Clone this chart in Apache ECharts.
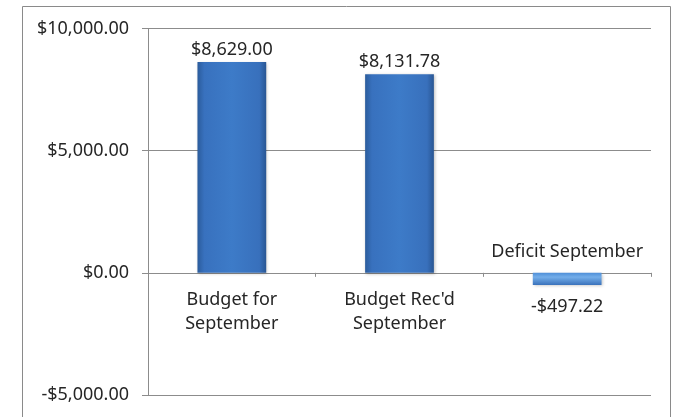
<!DOCTYPE html>
<html>
<head>
<meta charset="utf-8">
<script src="https://cdn.jsdelivr.net/npm/echarts@6/dist/echarts.min.js"></script>
<style>
html,body{margin:0;padding:0;background:#fff;}
#chart{width:680px;height:417px;}
</style>
</head>
<body>
<div id="chart"></div>
<script>
var categories = ['Budget for\nSeptember', 'Budget Rec\'d\nSeptember', 'Deficit September'];
var values = [8629.00, 8131.78, -497.22];
var yTicks = { min: -5000, max: 10000, interval: 5000 };

function money(v) {
  var neg = v < 0;
  var s = Math.abs(v).toFixed(2).replace(/\B(?=(\d{3})+(?!\d))/g, ',');
  return (neg ? '-$' : '$') + s;
}

var FONT = 'Noto Sans';
var TXT = '#262626';
var FS = 18;

var GRID_TOP = 28.5, GRID_BOTTOM = 22, H = 417;
var gridH = H - GRID_TOP - GRID_BOTTOM;
// move the category axis up to the zero value
var zeroOffset = -gridH * (0 - yTicks.min) / (yTicks.max - yTicks.min);

var posGrad = new echarts.graphic.LinearGradient(0, 0, 1, 0, [
  { offset: 0, color: '#2b5c9c' },
  { offset: 0.1, color: '#3871be' },
  { offset: 0.5, color: '#3d7bc8' },
  { offset: 0.9, color: '#3870bc' },
  { offset: 1, color: '#295693' }
]);
var negGrad = new echarts.graphic.LinearGradient(0, 0, 0, 1, [
  { offset: 0, color: '#4f8fd8' },
  { offset: 0.35, color: '#74aeea' },
  { offset: 1, color: '#3a72bb' }
]);

var barData = values.map(function (v) {
  if (v < 0) {
    return {
      value: v,
      itemStyle: { color: negGrad },
      label: { position: 'bottom', distance: 13 }
    };
  }
  return { value: v };
});

var catData = categories.map(function (c, i) {
  if (values[i] < 0) {
    return { value: c, textStyle: { verticalAlign: 'bottom' } };
  }
  return c;
});

var chart = echarts.init(document.getElementById('chart'), null, { renderer: 'canvas' });
chart.setOption({
  animation: false,
  backgroundColor: '#ffffff',
  graphic: [{
    type: 'rect',
    shape: { x: 22.5, y: 6.5, width: 648, height: 430 },
    style: { fill: 'none', stroke: '#8a8a8a', lineWidth: 1 },
    silent: true,
    z: -1
  }],
  grid: { left: 148, right: 29, top: GRID_TOP, bottom: GRID_BOTTOM, containLabel: false, outerBoundsMode: 'none' },
  xAxis: {
    type: 'category',
    data: catData,
    position: 'bottom',
    offset: zeroOffset,
    axisLine: { show: true, onZero: false, lineStyle: { color: '#8c8c8c', width: 1 } },
    axisTick: { show: true, length: 4, alignWithLabel: false, lineStyle: { color: '#8c8c8c' } },
    axisLabel: {
      interval: 0,
      margin: 15,
      color: TXT,
      fontFamily: FONT,
      fontSize: FS,
      lineHeight: 24,
      formatter: function (v) {
        return v.indexOf('Deficit') === 0 ? v + '\n ' : v;
      }
    },
    splitLine: { show: false }
  },
  yAxis: {
    type: 'value',
    min: yTicks.min,
    max: yTicks.max,
    interval: yTicks.interval,
    axisLine: { show: true, lineStyle: { color: '#8c8c8c', width: 1 } },
    axisTick: { show: true, length: 6, lineStyle: { color: '#8c8c8c' } },
    axisLabel: {
      margin: 19,
      color: TXT,
      fontFamily: FONT,
      fontSize: FS,
      formatter: function (v) { return money(v); }
    },
    splitLine: { show: true, lineStyle: { color: '#8c8c8c', width: 1 } }
  },
  series: [{
    type: 'bar',
    data: barData,
    barWidth: '41%',
    itemStyle: {
      color: posGrad,
      shadowColor: 'rgba(0,0,0,0.25)',
      shadowBlur: 3,
      shadowOffsetX: 1,
      shadowOffsetY: 1
    },
    label: {
      show: true,
      position: 'top',
      distance: 3,
      color: TXT,
      fontFamily: FONT,
      fontSize: FS,
      formatter: function (p) { return money(p.value); }
    }
  }]
});
</script>
</body>
</html>
